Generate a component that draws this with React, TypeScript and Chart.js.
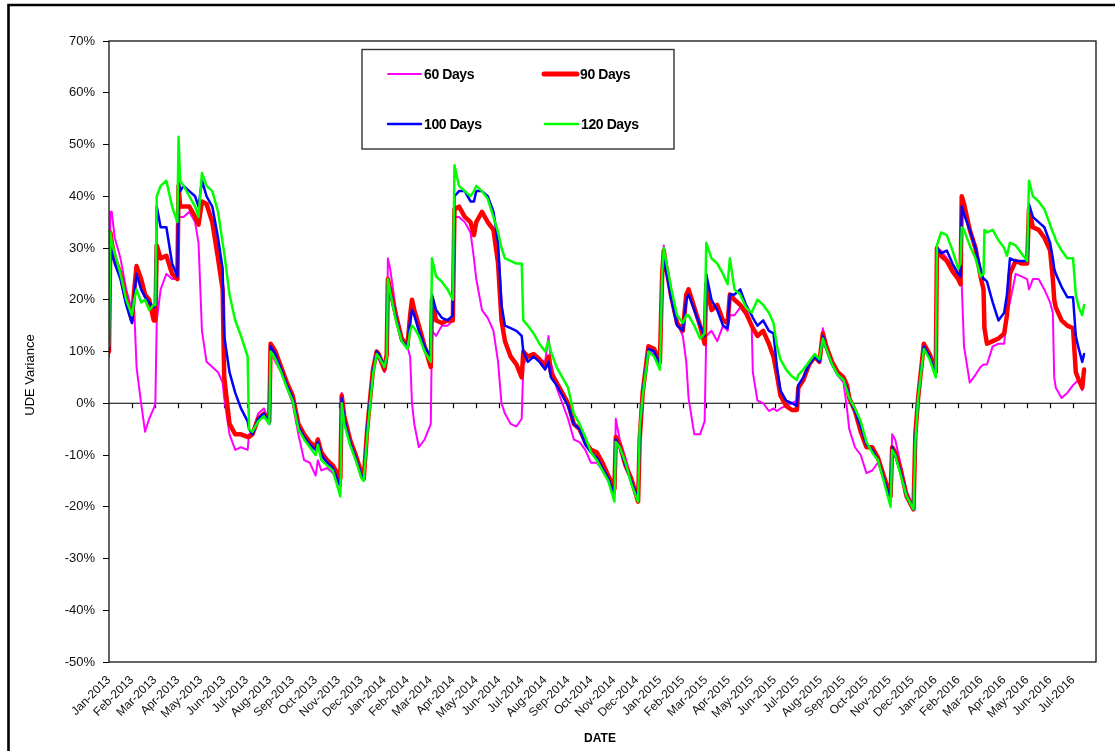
import React, { useEffect, useRef } from "react";
import { Chart, registerables } from "chart.js";

Chart.register(...registerables);

// Month labels (tick at the start of each month)
const monthLabels = [
  "Jan-2013", "Feb-2013", "Mar-2013", "Apr-2013", "May-2013", "Jun-2013", "Jul-2013", "Aug-2013", "Sep-2013", "Oct-2013", "Nov-2013", "Dec-2013",
  "Jan-2014", "Feb-2014", "Mar-2014", "Apr-2014", "May-2014", "Jun-2014", "Jul-2014", "Aug-2014", "Sep-2014", "Oct-2014", "Nov-2014", "Dec-2014",
  "Jan-2015", "Feb-2015", "Mar-2015", "Apr-2015", "May-2015", "Jun-2015", "Jul-2015", "Aug-2015", "Sep-2015", "Oct-2015", "Nov-2015", "Dec-2015",
  "Jan-2016", "Feb-2016", "Mar-2016", "Apr-2016", "May-2016", "Jun-2016", "Jul-2016",
];

// Sample dates, in months since the start of Jan-2013
const dates = [
  0, 0.06, 0.12, 0.25, 0.5, 0.75, 1.0, 1.1, 1.2, 1.4, 1.57, 1.75, 1.95, 2.02, 2.08, 2.25, 2.5, 2.75, 2.98,
  3.03, 3.1, 3.25, 3.5, 3.75, 3.9, 4.05, 4.25, 4.5, 4.75, 4.95, 5.02, 5.25, 5.5, 5.75, 6.04, 6.1, 6.25, 6.5, 6.75, 6.98,
  7.04, 7.25, 7.5, 7.75, 8.0, 8.25,
  8.5, 8.75, 9.0, 9.1, 9.25, 9.5, 9.75, 10.08, 10.14, 10.25, 10.5, 10.75, 11.0, 11.1, 11.25, 11.4, 11.5, 11.66, 11.75,
  12.0, 12.1, 12.15, 12.25, 12.5, 12.75, 13.0, 13.12, 13.2, 13.3, 13.5, 13.75, 14.02, 14.07, 14.25, 14.5, 14.75, 14.98,
  15.05, 15.25, 15.5, 15.75, 15.9, 16.0, 16.25, 16.5, 16.75, 16.95, 17.1, 17.25, 17.5, 17.75,
  17.98, 18.05, 18.25, 18.5, 18.75, 19.0, 19.15, 19.25, 19.5, 19.75, 20.0, 20.25, 20.5, 20.75, 21.0, 21.25, 21.5, 21.75,
  22.02, 22.08, 22.25, 22.5, 22.75, 23.05, 23.12, 23.25, 23.5, 23.75, 24.0, 24.1, 24.17, 24.25, 24.5, 24.75,
  25.0, 25.15, 25.25, 25.5, 25.75, 25.95, 26.02, 26.25, 26.5, 26.75, 26.95, 27.05,
  27.25, 27.5, 27.75, 28.0, 28.05, 28.25, 28.5, 28.75, 28.95, 29.1, 29.25, 29.5, 29.75, 29.97, 30.03, 30.25, 30.5, 30.75, 30.95,
  31.1, 31.25, 31.5, 31.75, 32.0, 32.15, 32.25, 32.5, 32.75, 33.0, 33.25, 33.5, 33.75, 34.05, 34.12, 34.25, 34.5, 34.75,
  35.05, 35.13, 35.25, 35.5, 35.75, 36.02,
  36.07, 36.25, 36.5, 36.75, 37.0, 37.1, 37.15, 37.25, 37.5, 37.75, 37.97, 38.1, 38.14, 38.25, 38.5, 38.75,
  39.0, 39.12, 39.25, 39.5, 39.75, 40.0, 40.08, 40.25, 40.5, 40.75, 41.0, 41.12, 41.18, 41.25, 41.5, 41.75,
  42.0, 42.12, 42.25, 42.4, 42.48,
];

const days60 = [
  9, 37, 37, 32, 28, 22, 18, 18, 7, 0, -5.5, -3, -1, 0, 16, 22, 25, 24, 24,
  36, 36, 36, 37, 35, 31, 14, 8, 7, 6, 4, 1, -6, -9, -8.5, -9, -6, -5.5, -2, -1, -3.5,
  10, 8, 6, 3, 0, -6,
  -11, -11.5, -14, -11, -13, -12.5, -13.5, -16, 2, -3, -8, -11, -14.5, -15, -4, 2, 7, 9, 8.5,
  6, 8, 28, 26, 18, 13, 11, 9, 0, -4, -8.5, -7, -4, 14, 13, 15, 15, 16,
  36, 36, 35, 33, 28, 24, 18, 16.5, 14, 8, 0, -2, -4, -4.5,
  -3, 7.5, 9, 9, 8.5, 8, 13, 8, 3, 0, -3, -7, -7.5, -9, -11.5, -11.5, -13, -15,
  -17, -3, -7, -10.5, -14.5, -18, -5, 3, 10, 9.5, 7.5, 24, 30.5, 27, 21, 15.5,
  13, 8, 1, -6, -6, -3.5, 13, 14, 12, 15, 14, 17,
  17, 18.5, 17, 15, 6, 0.5, 0, -1.5, -1, -1.5, -1, -0.5, 0, 0.5, 3, 4.5, 7, 9, 8,
  14.5, 11, 8, 5.5, 4, -1, -5, -8.5, -10, -13.5, -13, -11.5, -14, -18, -6, -7, -12, -17,
  -20, -7, 1, 11, 9, 6,
  30, 29.5, 28, 26.5, 24.5, 23.5, 23, 11, 4, 5.5, 7, 7.5, 7.5, 7.5, 11, 11.5,
  11.5, 17, 19.5, 25, 24.5, 24, 22, 24, 24, 22, 19.5, 17.5, 5, 3, 1, 2,
  3.5, 4, 4.5, 2.5, 4,
];

const days90 = [
  10, 33, 31, 28, 25, 20, 16, 22, 26.5, 24, 21, 20, 16, 16, 30.5, 28, 28.5, 25, 24,
  42, 38, 38, 38, 36, 34.5, 39, 38.5, 35, 28, 22, 5, -4, -6, -6, -6.5, -6.5, -6, -3, -2, -3.5,
  11.5, 10, 7, 4, 1.5, -4,
  -6, -7.5, -8.5, -7, -9.5, -11, -12, -14.5, 1.5, -2.5, -7, -10, -13.5, -14.5, -5, 2, 6.5, 10, 9.5,
  6.5, 9.5, 24, 22, 17, 12.5, 11, 17, 20, 18, 15, 11, 7, 20, 16, 15.5, 16, 16,
  37.5, 38, 36, 35, 32.5, 35, 37, 35, 33.5, 27, 16, 12, 9, 7.5,
  5, 10, 9, 9.5, 8.5, 7, 9, 6, 4, 2, 0, -4, -5, -7.5, -9, -9.5, -11.5, -14,
  -16.5, -6.5, -8, -12, -14.5, -19, -7, 2, 11, 10.5, 8, 25, 29.5, 27, 20.5, 15.5,
  14, 21, 22, 18.5, 15, 11.5, 23, 18, 19, 16, 15.5, 21,
  20, 19, 17.5, 15, 14.5, 13, 14, 11.5, 9, 5.5, 1.5, -0.5, -1.3, -1.3, 3, 4.5, 7.5, 9, 8,
  13.5, 11, 8, 6, 5, 3.5, 1, -1.5, -5.5, -8.5, -8.5, -10.5, -14, -18, -8.5, -9.5, -13, -18,
  -20.5, -6, 1, 11.5, 9.5, 6,
  30, 28.5, 27.5, 25.5, 24, 23, 40, 38.5, 33.5, 30, 24.5, 22, 14.5, 11.5, 12, 12.5,
  13.5, 17, 25, 27.5, 27, 27, 37.5, 34, 33.5, 32, 29.5, 24, 20, 18.5, 16, 15,
  14.5, 6, 4.5, 3, 6.5,
];

const days100 = [
  10.5, 31, 29, 27, 24, 19, 15.5, 21, 25, 22, 20.5, 19.5, 18.5, 19, 38, 34, 34, 27, 24.5,
  43, 41, 42, 41, 40, 38, 43, 40, 38, 32, 26, 13, 6, 2, -1, -3.5, -5, -6, -3, -2, -4,
  11, 9.5, 6.5, 3.5, 1, -4.5,
  -6.5, -8, -9, -7.5, -10, -11.5, -12.5, -16, 1, -3, -7.5, -10.5, -14, -14.5, -5, 2, 6, 10, 9.5,
  7, 9, 23, 21.5, 16.5, 12, 11, 16, 18, 17, 14, 11, 9, 21, 18, 16.5, 16, 17,
  40, 41, 41, 39, 39, 41, 41, 40, 37, 31, 19, 15, 14.5, 14,
  13, 10, 8, 9, 8, 6.5, 8, 5, 3.5, 1.5, -0.5, -4, -5, -8, -9.5, -10.5, -12.5, -14.5,
  -17.5, -7, -8.5, -12, -15, -18.5, -6.5, 2, 10.5, 10, 7.5, 24, 28.5, 26, 20, 15,
  14, 20, 21, 18, 15, 13, 25, 20, 18, 15, 14.5, 21,
  21, 22, 19, 17, 16.5, 15, 16, 14, 13.5, 7, 2.5, 0.5, 0, -0.5, 3.5, 5, 7.5, 9, 8,
  13, 10.5, 7.5, 5.5, 4.5, 3, 1, -1.5, -4.5, -8, -9, -11, -14.5, -18.5, -8.5, -10, -13.5, -18,
  -20.5, -7, 1, 11, 9, 5.5,
  30, 29, 29.5, 27, 25, 24.5, 38, 36.5, 33.5, 30, 26, 24, 24, 23.5, 19.5, 16,
  17.5, 21, 28, 27.5, 27.5, 27.5, 38.5, 36, 35, 34, 31, 28, 26, 25, 22.5, 20.5,
  20.5, 13, 10.5, 8, 9.5,
];

const days120 = [
  11, 33, 31, 29, 25, 20, 17, 20, 22, 19.5, 20, 18, 19, 19, 40, 42, 43, 38, 35,
  51.5, 43, 42, 40, 38, 36, 44.5, 42, 41, 37, 31, 29, 21, 16, 13, 9, -5, -5.5, -3.5, -2.5, -4,
  10, 8.5, 6, 3, 0.5, -5,
  -7, -8.5, -10, -8, -11, -12, -13, -18, 0, -4, -8, -11, -14.5, -15, -6, 1, 5.5, 9.5, 9,
  7, 9, 24, 21.5, 16, 12, 10.5, 14, 15, 14.5, 13, 10, 8, 28, 24.5, 23.5, 22, 20,
  46, 42, 41, 40, 41, 42, 41, 39.5, 36, 33, 30, 28, 27.5, 27,
  27, 16, 15, 13.5, 11.5, 10, 12, 10, 7, 5, 3, -2, -4, -6.5, -9.5, -11, -13, -15,
  -19, -7.5, -8.5, -11.5, -15.5, -19, -5, 1.5, 10, 9, 6.5, 25, 30, 28, 22, 17,
  15.5, 17, 17, 15, 12.5, 13.5, 31, 28, 27, 25, 23, 28,
  22, 21, 18.5, 17.5, 18, 20, 19, 17.5, 15.5, 11, 8.5, 6.5, 5.2, 4.5, 5.5, 6.5, 8, 9.5, 8.5,
  12.5, 10.5, 7.5, 5.5, 4.5, 2.5, 1, -1, -3.5, -7.5, -9.5, -11, -15, -20, -9, -10, -14, -18,
  -20.5, -7.5, 1, 10.5, 8.5, 5,
  30.5, 33, 32.5, 29.5, 26, 27, 34, 33.5, 30.5, 28, 24.5, 25, 33.5, 33, 33.5, 31.5,
  30, 28.5, 31, 30.5, 29, 27.5, 43, 40, 39, 37.5, 34.5, 33, 32.5, 31.5, 29.5, 28,
  28, 21, 18.5, 17, 19,
];

const seriesNames = ["60 Days", "90 Days", "100 Days", "120 Days"];
const yTicks = [-50, -40, -30, -20, -10, 0, 10, 20, 30, 40, 50, 60, 70];

const FONT = "'Liberation Sans', Arial, sans-serif";

const decorPlugin = {
  id: "decor",
  beforeDatasetsDraw(chart: any) {
    const { ctx, chartArea: a, scales } = chart;
    const y0 = scales.y.getPixelForValue(0);
    ctx.save();
    ctx.strokeStyle = "#000";
    ctx.lineWidth = 1.2;
    ctx.beginPath();
    ctx.moveTo(a.left, y0);
    ctx.lineTo(a.right, y0);
    for (let i = 1; i < monthLabels.length; i++) {
      const x = Math.round(scales.x.getPixelForValue(i)) + 0.5;
      ctx.moveTo(x, y0);
      ctx.lineTo(x, y0 + 5);
    }
    ctx.stroke();
    ctx.restore();
  },
  afterDraw(chart: any) {
    const { ctx, chartArea: a } = chart;
    ctx.save();
    // plot frame
    ctx.strokeStyle = "#111";
    ctx.lineWidth = 1.3;
    ctx.strokeRect(a.left, a.top, a.right - a.left, a.bottom - a.top);
    // outer frame (left & top)
    ctx.strokeStyle = "#000";
    ctx.lineWidth = 2.6;
    ctx.beginPath();
    ctx.moveTo(8.5, 751);
    ctx.lineTo(8.5, 5);
    ctx.lineTo(1115, 5);
    ctx.stroke();

    // axis titles
    ctx.fillStyle = "#000";
    ctx.font = `13px ${FONT}`;
    ctx.textAlign = "center";
    ctx.textBaseline = "middle";
    ctx.save();
    ctx.translate(30, 375);
    ctx.rotate(-Math.PI / 2);
    ctx.fillText("UDE Variance", 0, 0);
    ctx.restore();
    ctx.font = `bold 12px ${FONT}`;
    ctx.fillText("DATE", 600, 739);

    // legend
    ctx.strokeStyle = "#333";
    ctx.lineWidth = 1.4;
    ctx.strokeRect(362, 49.5, 312, 99.5);
    const items = [
      { x1: 388, x2: 421, y: 74, c: "#FF00FF", w: 2, tx: 424, name: seriesNames[0] },
      { x1: 544, x2: 577, y: 74, c: "#FF0000", w: 5, tx: 580, name: seriesNames[1] },
      { x1: 388, x2: 421, y: 124, c: "#0000FF", w: 2.5, tx: 424, name: seriesNames[2] },
      { x1: 545, x2: 578, y: 124, c: "#00FF00", w: 2.5, tx: 581, name: seriesNames[3] },
    ];
    ctx.textAlign = "left";
    ctx.font = `bold 14px ${FONT}`;
    (ctx as any).letterSpacing = "-0.4px";
    for (const it of items) {
      ctx.strokeStyle = it.c;
      ctx.lineWidth = it.w;
      ctx.lineCap = "round";
      ctx.beginPath();
      ctx.moveTo(it.x1, it.y);
      ctx.lineTo(it.x2, it.y);
      ctx.stroke();
      ctx.fillStyle = "#000";
      ctx.fillText(it.name, it.tx, it.y + 1);
    }
    (ctx as any).letterSpacing = "0px";
    ctx.restore();
  },
};

export default function App() {
  const ref = useRef<HTMLCanvasElement>(null);
  useEffect(() => {
    const canvas = ref.current;
    if (!canvas) return;
    const mk = (vals: number[]) => vals.map((v, i) => ({ x: dates[i], y: v }));
    const chart = new Chart(canvas, {
      type: "line",
      data: {
        datasets: [
          { label: seriesNames[0], data: mk(days60), borderColor: "#FF00FF", borderWidth: 2, order: 4 },
          { label: seriesNames[1], data: mk(days90), borderColor: "#FF0000", borderWidth: 4.5, order: 3 },
          { label: seriesNames[2], data: mk(days100), borderColor: "#0000FF", borderWidth: 2.5, order: 2 },
          { label: seriesNames[3], data: mk(days120), borderColor: "#00FF00", borderWidth: 2.5, order: 1 },
        ],
      },
      options: {
        responsive: false,
        animation: false,
        devicePixelRatio: 1,
        parsing: false,
        layout: { padding: { left: 0, top: 41, right: 19, bottom: 0 } },
        elements: {
          point: { radius: 0 },
          line: { tension: 0, borderJoinStyle: "round", borderCapStyle: "round", fill: false },
        },
        plugins: { legend: { display: false }, tooltip: { enabled: false }, title: { display: false } },
        scales: {
          x: {
            type: "linear",
            min: 0,
            max: 43,
            afterFit: (s: any) => {
              s.height = 89;
            },
            afterBuildTicks: (s: any) => {
              s.ticks = monthLabels.map((_, i) => ({ value: i }));
            },
            ticks: {
              autoSkip: false,
              maxRotation: 45,
              minRotation: 45,
              color: "#111",
              padding: 11,
              font: { family: FONT, size: 12 },
              callback: (v: any) => monthLabels[Math.round(Number(v))] ?? "",
            },
            grid: { display: false, drawTicks: false },
            border: { display: false },
          },
          y: {
            type: "linear",
            min: -50,
            max: 70,
            afterFit: (s: any) => {
              s.width = 109;
            },
            afterBuildTicks: (s: any) => {
              s.ticks = yTicks.map((v) => ({ value: v }));
            },
            ticks: {
              color: "#111",
              padding: 8,
              font: { family: FONT, size: 13 },
              callback: (v: any) => `${v}%`,
            },
            grid: { drawOnChartArea: false, tickLength: 6, color: "#000", lineWidth: 1 },
            border: { display: false },
          },
        },
      },
      plugins: [decorPlugin],
    } as any);
    return () => chart.destroy();
  }, []);

  return (
    <div style={{ position: "absolute", left: 0, top: 0, width: 1115, height: 751, background: "#fff" }}>
      <canvas ref={ref} width={1115} height={751} style={{ display: "block", width: 1115, height: 751 }} />
    </div>
  );
}
